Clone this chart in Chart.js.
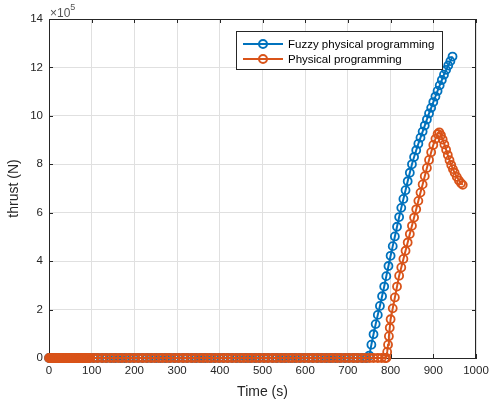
<!DOCTYPE html>
<html>
<head>
<meta charset="utf-8">
<script src="https://cdn.jsdelivr.net/npm/chart.js@4.4.0/dist/chart.umd.min.js"></script>
<style>
  html, body { margin: 0; padding: 0; background: #fff; }
  #wrap { width: 489px; height: 405px; }
</style>
</head>
<body>
<div id="wrap"><canvas id="thrustChart" width="489" height="405"></canvas></div>
<script>
// thrust is kept in units of 10^5 N, time in s

// fuzzy physical programming: engine off, then the burn
const fuzzyIdleTime = [0, 3, 6, 9, 12, 15, 18, 21, 24, 27, 30, 33, 36, 39, 42, 45, 48, 51, 54, 57, 60, 63, 66, 69, 72, 75, 78, 81, 84, 87, 90, 94,
  104, 114, 125, 135, 146, 156, 167, 177, 188, 198, 209, 219, 230, 240, 251, 261, 272, 282, 293, 303, 314, 324, 335, 345, 356, 366,
  377, 387, 398, 408, 419, 429, 440, 450, 461, 471, 482, 492, 503, 513, 524, 534, 545, 555, 566, 576, 587, 597, 608, 618, 629, 639,
  650, 660, 671, 681, 692, 702, 713, 723, 734, 744];
const fuzzyBurnTime = [750, 755, 760, 765, 770, 775, 780, 785, 790, 795, 800, 805, 810, 815, 820, 825, 830, 835, 840, 845,
  850, 855, 860, 865, 870, 875, 880, 885, 890, 895, 900, 905, 910, 915, 920, 925, 930, 935, 940, 945];
const fuzzyBurnThrust = [0.1, 0.55, 0.98, 1.4, 1.78, 2.15, 2.55, 2.95, 3.38, 3.8, 4.22, 4.62, 5.02, 5.42, 5.82, 6.2, 6.57, 6.93, 7.3, 7.65,
  8.0, 8.3, 8.58, 8.85, 9.1, 9.35, 9.6, 9.85, 10.1, 10.33, 10.57, 10.8, 11.03, 11.26, 11.48, 11.7, 11.9, 12.08, 12.26, 12.45];

// physical programming
const physIdleTime = [0, 3, 5, 8, 10, 13, 15, 18, 20, 23, 25, 28, 30, 33, 35, 38, 40, 43, 45, 48, 50, 53, 55, 58, 60, 63, 65, 68, 70,
  73, 75, 78, 80, 83, 85, 88, 90, 93, 96,
  105, 114, 124, 133, 143, 152, 162, 171, 181, 190, 200, 209, 219, 228, 238, 247, 257, 266, 276, 285, 295, 304, 314, 323, 333, 342,
  352, 361, 371, 380, 390, 399, 409, 418, 428, 437, 447, 456, 466, 475, 485, 494, 504, 513, 523, 532, 542, 551, 561, 570, 580, 589,
  599, 608, 618, 627, 637, 646, 656, 665, 675, 684, 694, 703, 713, 722, 732, 741, 751, 760, 770, 779, 787];
const physBurnTime = [790, 792, 794, 796, 798, 800, 805, 810, 815, 820, 825, 830, 835, 840, 845, 850, 855, 860, 865, 870, 875, 880,
  885, 890, 895, 900, 905, 910, 914, 918, 922, 926, 930, 934, 938, 942, 946, 950, 955, 960, 965, 969];
const physBurnThrust = [0, 0.25, 0.55, 0.9, 1.25, 1.6, 2.05, 2.5, 2.95, 3.4, 3.74, 4.09, 4.43, 4.77, 5.12, 5.46, 5.8, 6.14, 6.49, 6.83,
  7.17, 7.51, 7.85, 8.18, 8.5, 8.8, 9.05, 9.25, 9.32, 9.2, 9.02, 8.82, 8.6, 8.38, 8.17, 7.97, 7.8, 7.65, 7.48, 7.33, 7.22, 7.15];

const seriesNames = ['Fuzzy physical programming', 'Physical programming'];
const seriesColors = ['#0072BD', '#D95319'];
const timeTicks = [0, 100, 200, 300, 400, 500, 600, 700, 800, 900, 1000];
const thrustTicks = [0, 2, 4, 6, 8, 10, 12, 14];
const thrustExponent = '5';

function toPoints(idleTime, burnTime, burnThrust) {
  const pts = idleTime.map(t => ({ x: t, y: 0 }));
  burnTime.forEach((t, i) => pts.push({ x: t, y: burnThrust[i] }));
  return pts;
}

const axisColor = '#262626';
const gridColor = '#e0e0e0';
const fontFamily = '"Liberation Sans", Arial, sans-serif';

// box, inward ticks, exponent and legend the way the plot tool draws them
const frame = {
  id: 'frame',
  beforeDatasetsDraw(chart) {
    const { ctx, chartArea: a, scales } = chart;
    ctx.save();
    ctx.strokeStyle = axisColor;
    ctx.lineWidth = 1;
    ctx.beginPath();
    ctx.moveTo(a.left, a.top + 0.5);
    ctx.lineTo(a.right, a.top + 0.5);
    ctx.moveTo(a.right - 0.5, a.top);
    ctx.lineTo(a.right - 0.5, a.bottom);
    timeTicks.forEach(v => {
      const x = Math.round(scales.x.getPixelForValue(v)) + 0.5;
      ctx.moveTo(x, a.bottom); ctx.lineTo(x, a.bottom - 4);
      ctx.moveTo(x, a.top); ctx.lineTo(x, a.top + 4);
    });
    thrustTicks.forEach(v => {
      const y = Math.round(scales.y.getPixelForValue(v)) + 0.5;
      ctx.moveTo(a.left, y); ctx.lineTo(a.left + 4, y);
      ctx.moveTo(a.right, y); ctx.lineTo(a.right - 4, y);
    });
    ctx.stroke();

    ctx.fillStyle = '#555';
    ctx.textBaseline = 'alphabetic';
    ctx.font = '12px ' + fontFamily;
    ctx.fillText('\u00d710', a.left + 1, a.top - 2);
    const w = ctx.measureText('\u00d710').width;
    ctx.font = '9px ' + fontFamily;
    ctx.fillText(thrustExponent, a.left + 1 + w, a.top - 9);
    ctx.restore();
  },
  afterDatasetsDraw(chart) {
    const { ctx, chartArea: a } = chart;
    const bx = a.right - 240, by = a.top + 12, bw = 206, bh = 38;
    ctx.save();
    ctx.fillStyle = '#fff';
    ctx.fillRect(bx, by, bw, bh);
    ctx.strokeStyle = axisColor;
    ctx.lineWidth = 1;
    ctx.strokeRect(bx + 0.5, by + 0.5, bw, bh);
    ctx.font = '11.5px ' + fontFamily;
    ctx.textBaseline = 'middle';
    seriesNames.forEach((name, i) => {
      const y = by + 13 + i * 15;
      ctx.strokeStyle = seriesColors[i];
      ctx.lineWidth = 2;
      ctx.beginPath();
      ctx.moveTo(bx + 7, y); ctx.lineTo(bx + 47, y);
      ctx.stroke();
      ctx.beginPath();
      ctx.arc(bx + 27, y, 4, 0, Math.PI * 2);
      ctx.stroke();
      ctx.fillStyle = '#000';
      ctx.fillText(name, bx + 52, y + 0.5);
    });
    ctx.restore();
  }
};

const lineStyle = (i) => ({
  label: seriesNames[i],
  borderColor: seriesColors[i],
  backgroundColor: seriesColors[i],
  borderWidth: 2,
  pointStyle: 'circle',
  pointRadius: 4,
  pointBorderWidth: 1.8,
  pointBorderColor: seriesColors[i],
  pointBackgroundColor: 'rgba(255,255,255,0)',
  tension: 0,
  fill: false,
  clip: false
});

new Chart(document.getElementById('thrustChart'), {
  type: 'line',
  data: {
    datasets: [
      Object.assign(lineStyle(0), { data: toPoints(fuzzyIdleTime, fuzzyBurnTime, fuzzyBurnThrust), order: 2 }),
      Object.assign(lineStyle(1), { data: toPoints(physIdleTime, physBurnTime, physBurnThrust), order: 1 })
    ]
  },
  options: {
    responsive: false,
    animation: false,
    layout: { padding: { top: 19, right: 13, left: 0, bottom: 0 } },
    plugins: { legend: { display: false }, tooltip: { enabled: false } },
    scales: {
      x: {
        type: 'linear',
        min: 0, max: 1000,
        afterFit: s => { s.height = 47; s.paddingLeft = 0; s.paddingRight = 0; },
        afterBuildTicks: s => { s.ticks = timeTicks.map(v => ({ value: v })); },
        ticks: {
          autoSkip: false, maxRotation: 0, padding: 6, color: axisColor,
          callback: v => String(v),
          font: { family: fontFamily, size: 11.5 }
        },
        grid: { color: gridColor, drawTicks: false },
        border: { color: axisColor, width: 1 },
        title: {
          display: true, text: 'Time (s)', color: axisColor, padding: { top: 0, bottom: 4 },
          font: { family: fontFamily, size: 14 }
        }
      },
      y: {
        min: 0, max: 14,
        afterFit: s => { s.width = 49; s.paddingTop = 0; s.paddingBottom = 0; },
        afterBuildTicks: s => { s.ticks = thrustTicks.map(v => ({ value: v })); },
        ticks: {
          padding: 6, color: axisColor,
          callback: v => String(v),
          font: { family: fontFamily, size: 11.5 }
        },
        grid: { color: gridColor, drawTicks: false },
        border: { color: axisColor, width: 1 },
        title: {
          display: true, text: 'thrust (N)', color: axisColor, padding: { top: 6, bottom: 0 },
          font: { family: fontFamily, size: 14 }
        }
      }
    }
  },
  plugins: [frame]
});
</script>
</body>
</html>
